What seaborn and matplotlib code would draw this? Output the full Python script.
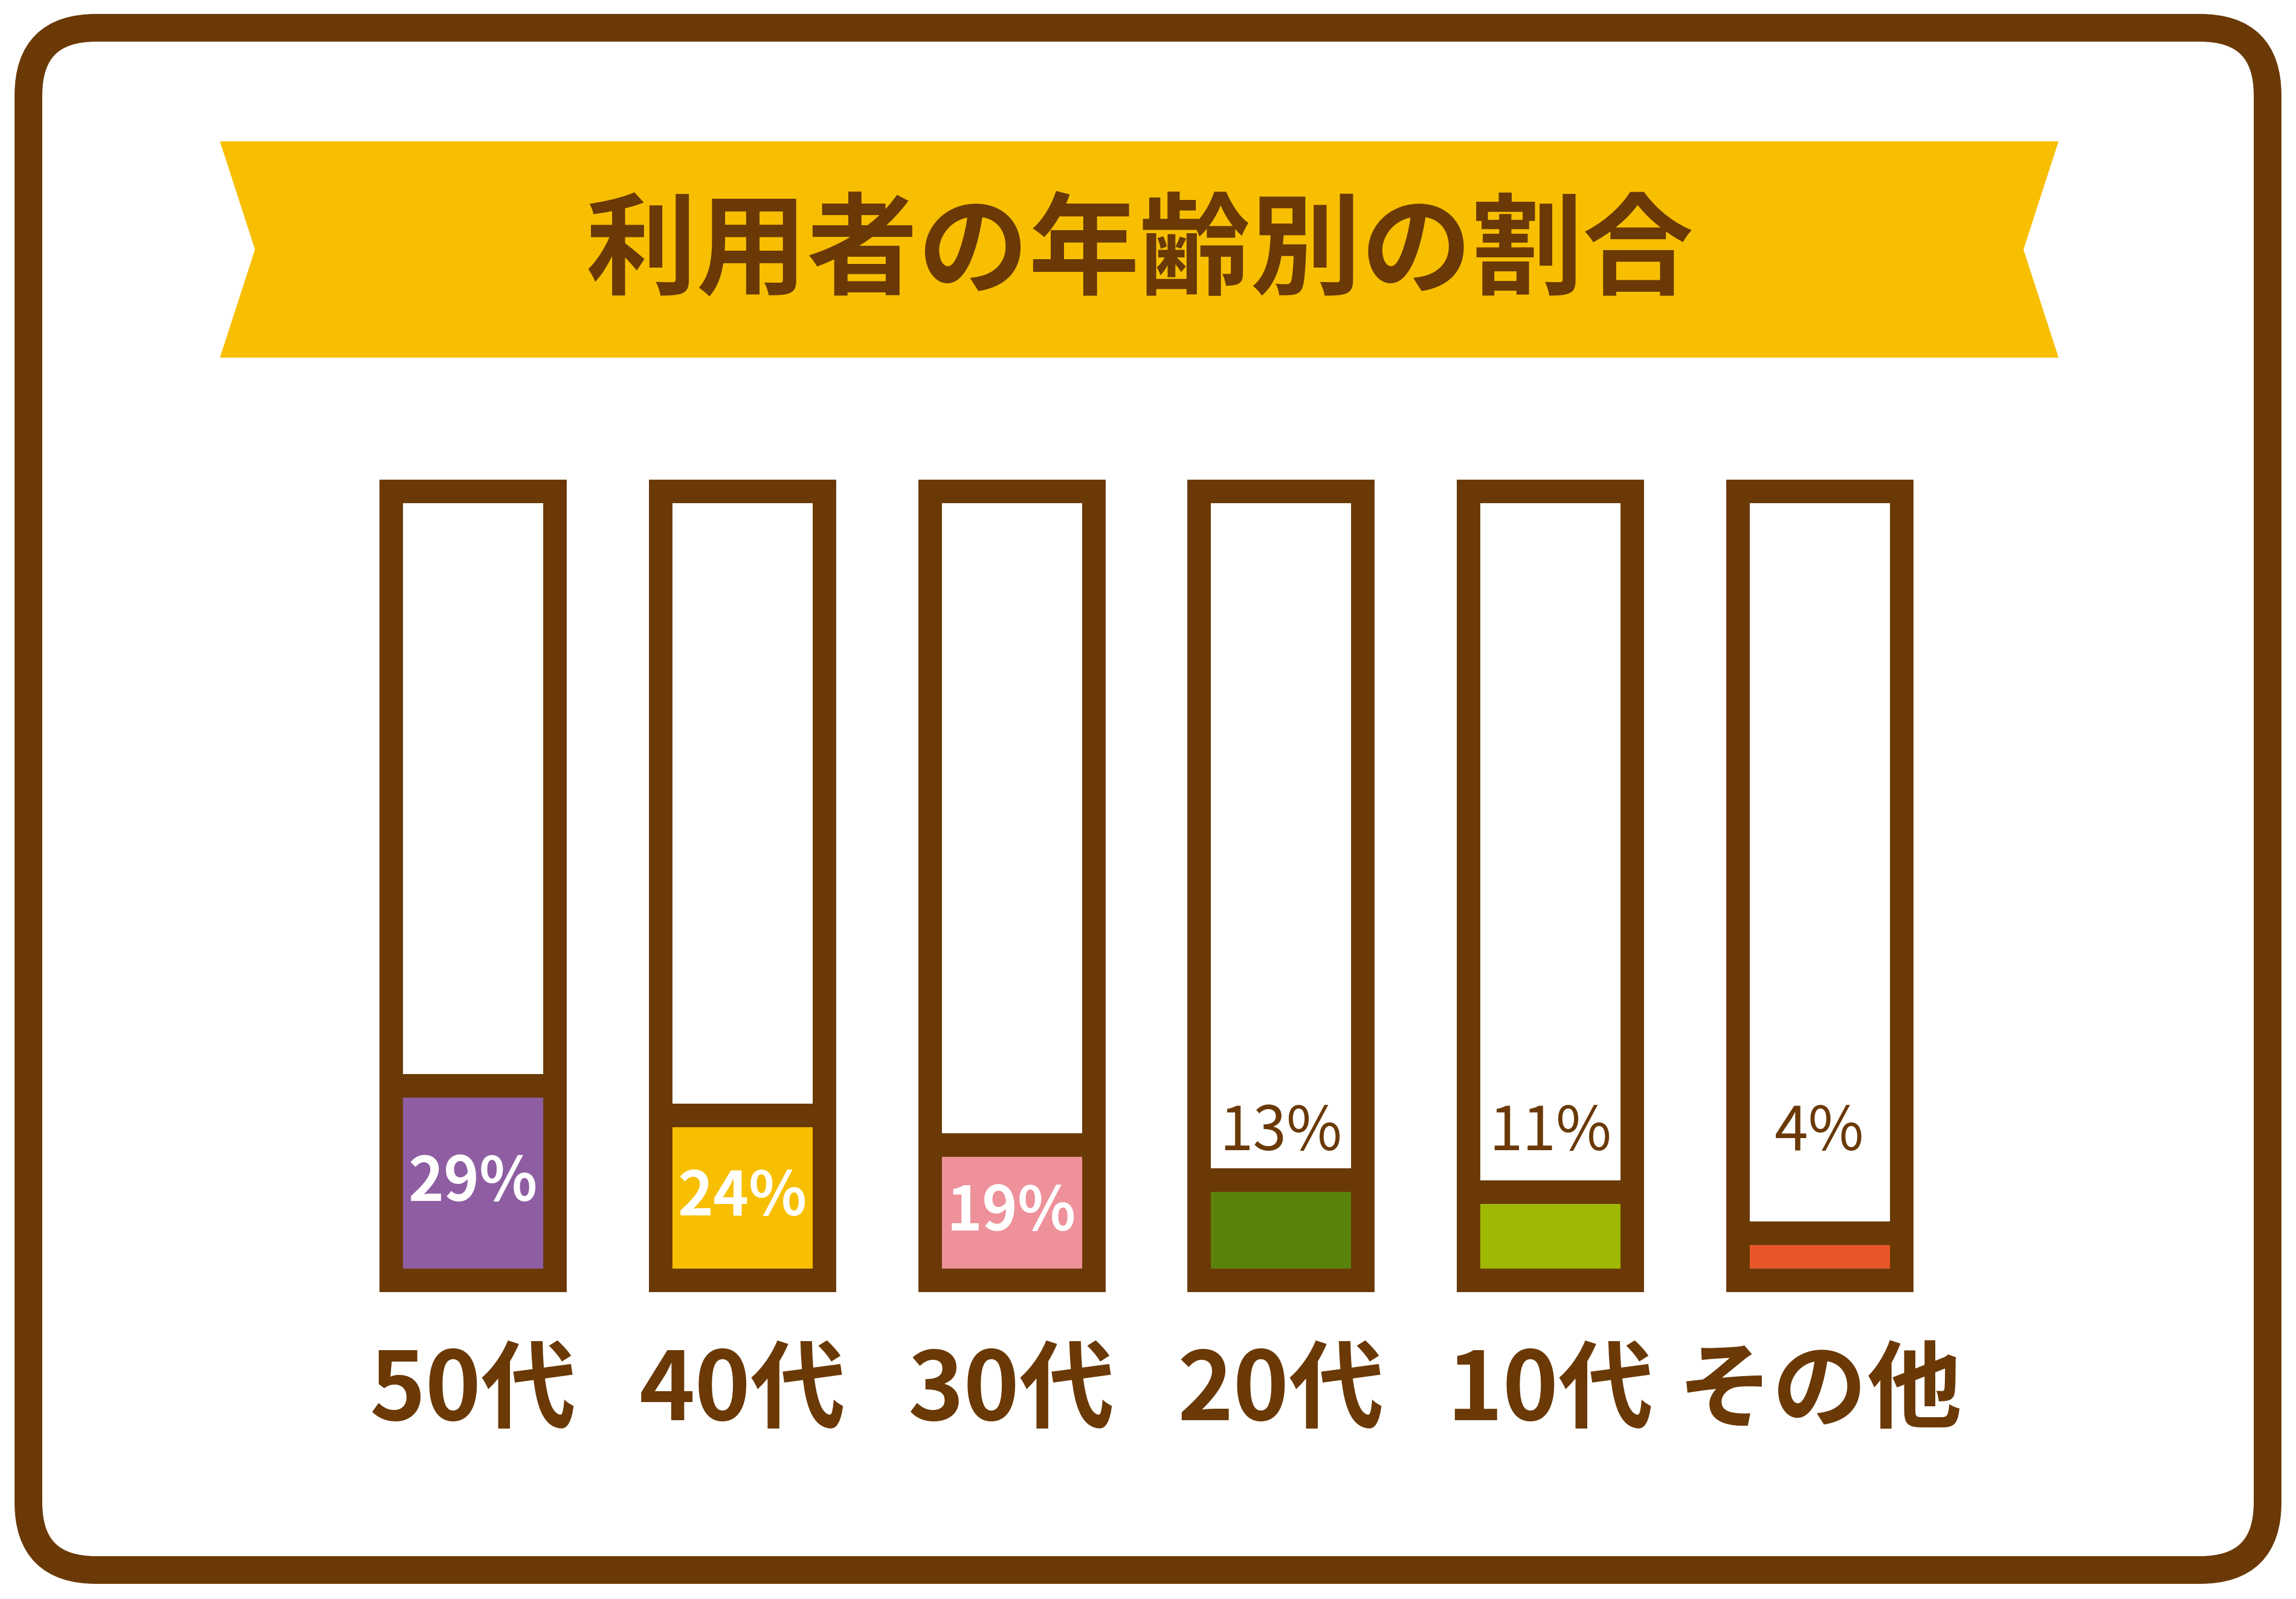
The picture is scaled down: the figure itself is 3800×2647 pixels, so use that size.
import matplotlib
matplotlib.use("Agg")
import matplotlib.pyplot as plt
from matplotlib.patches import FancyBboxPatch, Polygon
import pandas as pd
import seaborn as sns

# data
age_groups = ["50代", "40代", "30代", "20代", "10代", "その他"]
shares = [29, 24, 19, 13, 11, 4]
bar_colors = ["#8f5ea2", "#f8bf00", "#ee919a", "#5b820a", "#9fb804", "#e8572a"]
title = "利用者の年齢別の割合"

BROWN = "#6a3906"
YELLOW = "#f8bf00"
SCALE_MAX = 130  # inner top of each tube, in percent units

sns.set_theme(style="white")
plt.rcParams["font.family"] = ["Noto Sans CJK JP", "DejaVu Sans"]

W, H = 3800, 2647
fig = plt.figure(figsize=(W / 100, H / 100), dpi=100, facecolor="white")

# decoration layer, pixel coordinates
bg = fig.add_axes([0, 0, 1, 1])
bg.set_xlim(0, W)
bg.set_ylim(H, 0)
bg.axis("off")
bg.add_patch(FancyBboxPatch((47, 46), 3706, 2553, boxstyle="round,pad=0,rounding_size=112",
                            fill=False, ec=BROWN, lw=33))
bg.add_patch(Polygon([(364, 234), (3407, 234), (3349, 413), (3407, 592), (364, 592), (422, 413)],
                     closed=True, fc=YELLOW, ec="none"))
bg.text(1886, 420, title, ha="center", va="center", fontsize=132, fontweight="bold", color=BROWN)

# tubes
ax = fig.add_axes([560 / W, (H - 2139) / H, 2674 / W, 1346 / H])
ax.set_facecolor("none")
df = pd.DataFrame({"age": age_groups, "share": shares})
sns.barplot(data=df, x="age", y="share", hue="age", palette=bar_colors, width=0.53,
            saturation=1, legend=False, linewidth=0, ax=ax)
xs = range(len(age_groups))
ax.bar(xs, 4, bottom=shares, width=0.62, color=BROWN, linewidth=0)
ax.bar(xs, SCALE_MAX + 4, bottom=-2, width=0.608, fill=False, edgecolor=BROWN,
       linewidth=28, joinstyle="miter", clip_on=False)

for i, v in enumerate(shares):
    if v >= 15:
        ax.text(i, v / 2, f"{v}%", ha="center", va="center", color="white",
                fontsize=72, fontweight="bold")
    else:
        ax.text(i, 23, f"{v}%", ha="center", va="center", color=BROWN,
                fontsize=72)

ax.set_xlim(-0.5, 5.5)
ax.set_ylim(-4, SCALE_MAX + 4)
ax.set_yticks([])
ax.set_xlabel("")
ax.set_ylabel("")
sns.despine(ax=ax, left=True, bottom=True)
ax.tick_params(axis="x", length=0, pad=62, labelsize=113, labelcolor=BROWN)
for lbl in ax.get_xticklabels():
    lbl.set_fontweight("bold")

fig.savefig("out.png", dpi=100, facecolor="white")
